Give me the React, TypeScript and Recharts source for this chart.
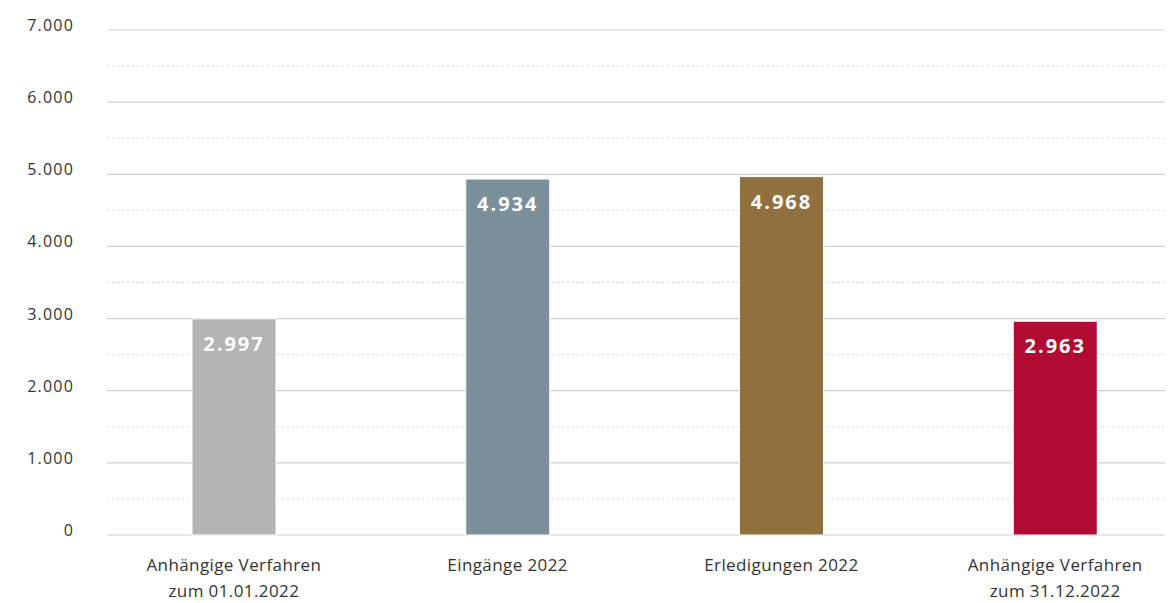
import React from 'react';
import { BarChart, Bar, XAxis, YAxis, CartesianGrid, Cell, LabelList } from 'recharts';

const categories = [
  'Anhängige Verfahren\nzum 01.01.2022',
  'Eingänge 2022',
  'Erledigungen 2022',
  'Anhängige Verfahren\nzum 31.12.2022',
];
const values = [2997, 4934, 4968, 2963];
const barColors = ['#b4b4b4', '#7a8f99', '#917040', '#b10a33'];
const yTicks = [0, 500, 1000, 1500, 2000, 2500, 3000, 3500, 4000, 4500, 5000, 5500, 6000, 6500, 7000];

const data = categories.map((name, i) => ({ name, value: values[i] }));

const fmt = (v: number) => v.toLocaleString('de-DE');
const FONT = '"Open Sans", "Noto Sans", sans-serif';

const GridLine = (props: any) => {
  const { x1, x2, y1, y2, index } = props;
  const major = index % 2 === 0;
  return (
    <line
      x1={x1 + 10}
      x2={x2}
      y1={y1}
      y2={y2}
      stroke={major ? '#cfcfcf' : '#d6d6d6'}
      strokeWidth={major ? 1.2 : 1}
      strokeDasharray={major ? undefined : '2 3'}
    />
  );
};

const XTick = (props: any) => {
  const { x, y, payload } = props;
  const lines = String(payload.value).split('\n');
  return (
    <text x={x} y={y} textAnchor="middle" fill="#333" fontSize={17} fontFamily={FONT} letterSpacing={0.4}>
      {lines.map((l, i) => (
        <tspan key={i} x={x} dy={i === 0 ? 28 : 26}>
          {l}
        </tspan>
      ))}
    </text>
  );
};

const YTick = (props: any) => {
  const { x, y, payload } = props;
  const v = Number(payload.value);
  if (v % 1000 !== 0) return <g />;
  return (
    <text x={x} y={y - 5} textAnchor="end" dominantBaseline="central" fill="#333" fontSize={16} fontFamily={FONT} letterSpacing={1.2}>
      {fmt(v)}
    </text>
  );
};

export default function App() {
  return (
    <div style={{ marginLeft: -8, marginTop: -8, width: 1173, height: 603, overflow: 'hidden', background: '#fff' }}>
      <BarChart
        width={1192}
        height={603}
        data={data}
        margin={{ top: 30, right: 0, bottom: 0, left: 0 }}
      >
        <CartesianGrid vertical={false} horizontal={(p: any) => <GridLine key={p.key} {...p} />} />
        <XAxis
          dataKey="name"
          axisLine={false}
          tickLine={false}
          height={68}
          interval={0}
          tick={<XTick />}
        />
        <YAxis
          domain={[0, 7000]}
          ticks={yTicks}
          interval={0}
          width={97}
          axisLine={false}
          tickLine={false}
          tickMargin={17}
          tick={<YTick />}
        />
        <Bar dataKey="value" barSize={84} stroke="#fff" strokeWidth={1} isAnimationActive={false}>
          {data.map((d, i) => (
            <Cell key={d.name} fill={barColors[i]} />
          ))}
          <LabelList
            dataKey="value"
            position="insideTop"
            offset={18}
            formatter={(v: any) => fmt(Number(v))}
            style={{ fill: '#fff', fontSize: 20, fontWeight: 700, fontFamily: FONT, letterSpacing: 2 }}
          />
        </Bar>
      </BarChart>
    </div>
  );
}
